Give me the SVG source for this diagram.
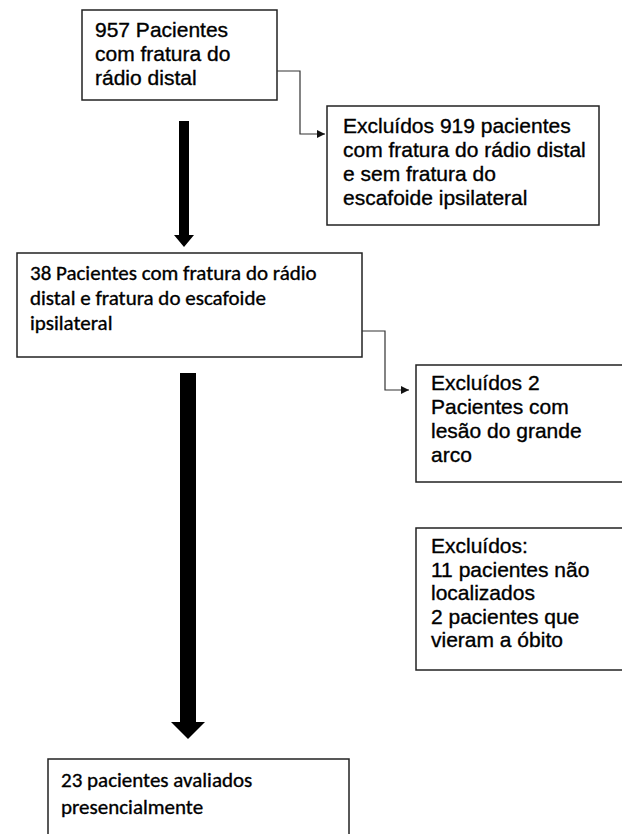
<svg xmlns="http://www.w3.org/2000/svg" width="622" height="834" viewBox="0 0 622 834">
<defs>
<style>
.box{fill:#fff;stroke:#222;stroke-width:1.5}
.a{font-family:"Liberation Sans",Arial,sans-serif;font-size:21px;fill:#000;stroke:#000;stroke-width:0.35}
.c{font-family:Carlito,Lato,"Open Sans",sans-serif;font-size:21px;fill:#000;stroke:#000;stroke-width:0.35}
.thin{fill:none;stroke:#333;stroke-width:1.2}
.thick{fill:#000}
</style>
<marker id="ah" viewBox="0 0 10 10" refX="10" refY="5" markerWidth="8" markerHeight="8" markerUnits="userSpaceOnUse" orient="auto">
<path d="M0,0 L10,5 L0,10 Z" fill="#111"/>
</marker>
</defs>
<rect width="622" height="834" fill="#fff"/>

<g id="n1">
<rect class="box" x="82" y="10" width="195" height="90"/>
<text class="a" x="95" y="37">957 Pacientes</text>
<text class="a" x="95" y="61">com fratura do</text>
<text class="a" x="95" y="85">rádio distal</text>
</g>

<g id="n2">
<rect class="box" x="327" y="106" width="272" height="119"/>
<text class="a" x="343" y="133">Excluídos 919 pacientes</text>
<text class="a" x="343" y="157">com fratura do rádio distal</text>
<text class="a" x="343" y="181">e sem fratura do</text>
<text class="a" x="343" y="205">escafoide ipsilateral</text>
</g>

<g id="n3">
<rect class="box" x="17" y="253" width="345" height="104"/>
<text class="c" x="30" y="280">38 Pacientes com fratura do rádio</text>
<text class="c" x="30" y="305">distal e fratura do escafoide</text>
<text class="c" x="30" y="330">ipsilateral</text>
</g>

<g id="n4">
<rect class="box" x="416" y="365" width="220" height="117"/>
<text class="a" x="431" y="390">Excluídos 2</text>
<text class="a" x="431" y="414">Pacientes com</text>
<text class="a" x="431" y="438">lesão do grande</text>
<text class="a" x="431" y="462">arco</text>
</g>

<g id="n5">
<rect class="box" x="416" y="528" width="220" height="142"/>
<text class="a" x="431" y="553">Excluídos:</text>
<text class="a" x="431" y="577">11 pacientes não</text>
<text class="a" x="431" y="600">localizados</text>
<text class="a" x="431" y="624">2 pacientes que</text>
<text class="a" x="431" y="647">vieram a óbito</text>
</g>

<g id="n6">
<rect class="box" x="48" y="759" width="301" height="100"/>
<text class="c" x="61" y="787">23 pacientes avaliados</text>
<text class="c" x="61" y="814">presencialmente</text>
</g>

<g id="connectors">
<path class="thin" d="M277,71 H300 V134 H325" marker-end="url(#ah)"/>
<path class="thin" d="M362,331 H385 V390 H409" marker-end="url(#ah)"/>
<path class="thick" d="M179,121 H189 V235 H194 L184,247 L174,235 H179 Z"/>
<path class="thick" d="M180,373 H196 V722 H205 L188,739 L171,722 H180 Z"/>
</g>
</svg>
